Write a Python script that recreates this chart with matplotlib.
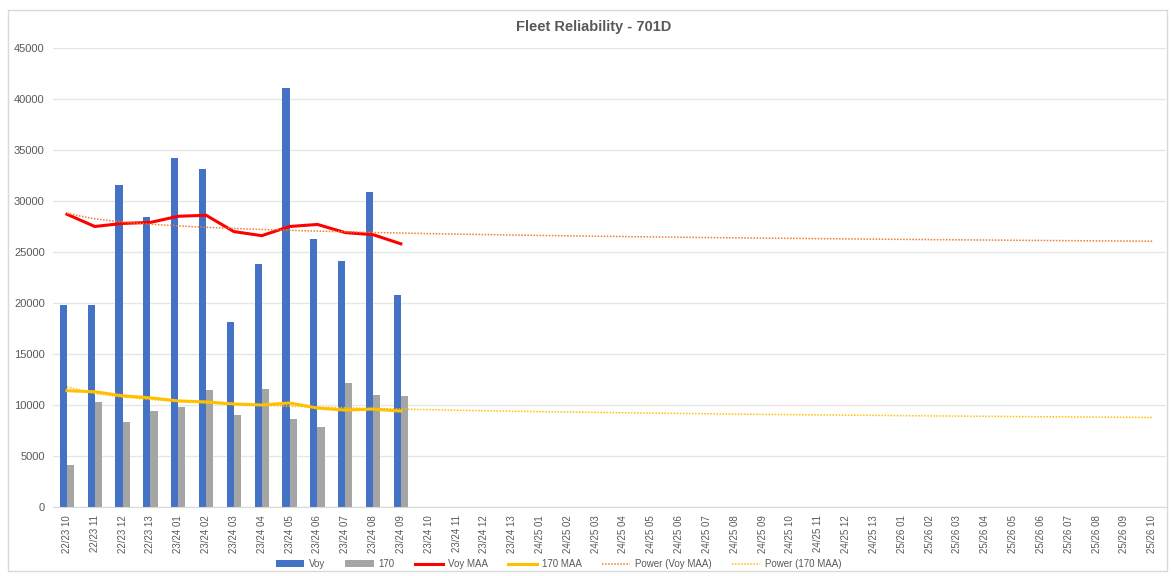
import numpy as np
import matplotlib.pyplot as plt
from matplotlib.patches import Rectangle

plt.rcParams['font.family'] = ['Liberation Sans', 'DejaVu Sans']

# periods on the x axis
periods = (['22/23 10', '22/23 11', '22/23 12', '22/23 13']
           + ['23/24 %02d' % m for m in range(1, 14)]
           + ['24/25 %02d' % m for m in range(1, 14)]
           + ['25/26 %02d' % m for m in range(1, 11)])

# values (first 13 periods)
voy = [19800, 19800, 31600, 28400, 34200, 33100, 18100, 23800, 41100, 26300, 24100, 30900, 20800]
v170 = [4100, 10300, 8300, 9400, 9800, 11500, 9000, 11600, 8600, 7800, 12200, 11000, 10900]
voy_maa = [28700, 27500, 27800, 27900, 28500, 28600, 27000, 26600, 27500, 27700, 26900, 26700, 25800]
maa_170 = [11400, 11300, 10900, 10700, 10400, 10300, 10100, 10000, 10200, 9700, 9500, 9600, 9400]


def power_trend(vals, n):
    # excel style power trendline y = a * x^b
    x = np.arange(1, len(vals) + 1)
    b, la = np.polyfit(np.log(x), np.log(vals), 1)
    xx = np.arange(1, n + 1)
    return np.exp(la) * xx ** b


n = len(periods)
x_all = np.arange(n)
x_data = np.arange(len(voy))

fig = plt.figure(figsize=(11.71, 5.76), dpi=100)
fig.patches.append(Rectangle((0.007, 0.008), 0.990, 0.975, transform=fig.transFigure,
                             fill=False, edgecolor='#d9d9d9', linewidth=1))
ax = fig.add_axes([0.0453, 0.1198, 0.9505, 0.7969])

w = 0.26
ax.bar(x_data - w / 2, voy, width=w, color='#4472C4', label='Voy', zorder=2)
ax.bar(x_data + w / 2, v170, width=w, color='#A5A5A5', label='170', zorder=2)
ax.plot(x_data, voy_maa, color='#FF0000', lw=2.2, label='Voy MAA', zorder=3)
ax.plot(x_data, maa_170, color='#FFC000', lw=2.2, label='170 MAA', zorder=3)
ax.plot(x_all, power_trend(voy_maa, n), color='#ED7D31', lw=1.1, ls=(0, (1, 1)),
        label='Power (Voy MAA)', zorder=4)
ax.plot(x_all, power_trend(maa_170, n), color='#FFC000', lw=1.1, ls=(0, (1, 1)),
        label='Power (170 MAA)', zorder=4)

ax.set_xlim(-0.5, n - 0.5)
ax.set_ylim(0, 45000)
ax.set_yticks(range(0, 45001, 5000))
ax.set_xticks(x_all)
ax.set_xticklabels(periods, rotation=90, fontsize=7, color='#595959')
ax.tick_params(axis='y', labelsize=8, labelcolor='#595959', length=0, pad=6)
ax.tick_params(axis='x', length=0, pad=6)
ax.grid(axis='y', color='#e6e6e6', lw=1, zorder=0)
for s in ['top', 'right', 'left']:
    ax.spines[s].set_visible(False)
ax.spines['bottom'].set_color('#d9d9d9')

fig.text(0.507, 0.953, 'Fleet Reliability - 701D', ha='center', va='center',
         fontsize=10.5, fontweight='bold', color='#595959')

handles, labels = ax.get_legend_handles_labels()
order = ['Voy', '170', 'Voy MAA', '170 MAA', 'Power (Voy MAA)', 'Power (170 MAA)']
hmap = dict(zip(labels, handles))
fig.legend([hmap[k] for k in order], order, loc='center', bbox_to_anchor=(0.477, 0.021),
           ncol=6, frameon=False, fontsize=7, labelcolor='#595959', handlelength=2.9,
           handletextpad=0.5, columnspacing=2.1, handleheight=0.6)

plt.savefig('out.png', dpi=100)
